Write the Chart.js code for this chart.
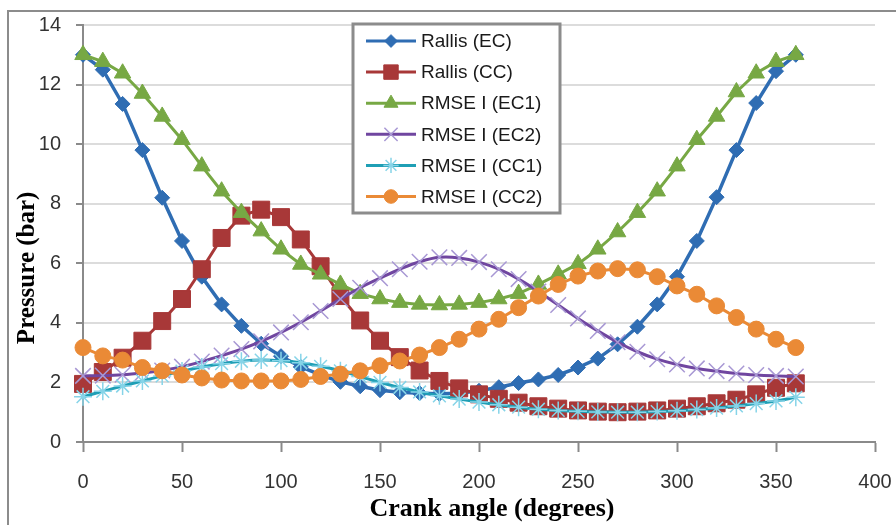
<!DOCTYPE html>
<html>
<head>
<meta charset="utf-8">
<script src="https://cdn.jsdelivr.net/npm/chart.js"></script>
<style>
  html, body { margin: 0; padding: 0; background: #fff; }
  #wrap { width: 896px; height: 525px; }
</style>
</head>
<body>
<div id="wrap"><canvas id="chart" width="896" height="525"></canvas></div>
<script>
// crank angle, degrees
const angles = [0, 10, 20, 30, 40, 50, 60, 70, 80, 90, 100, 110, 120, 130, 140, 150, 160, 170, 180,
  190, 200, 210, 220, 230, 240, 250, 260, 270, 280, 290, 300, 310, 320, 330, 340, 350, 360];

// pressure (bar)
const rallisEC = [13.0, 12.5, 11.35, 9.8, 8.2, 6.75, 5.55, 4.62, 3.9, 3.3, 2.88, 2.52, 2.25, 2.02, 1.87, 1.74, 1.67, 1.64, 1.62,
  1.64, 1.72, 1.84, 1.98, 2.1, 2.25, 2.5, 2.8, 3.28, 3.87, 4.62, 5.55, 6.75, 8.22, 9.8, 11.38, 12.45, 13.0];
const rallisCC = [1.95, 2.35, 2.83, 3.4, 4.06, 4.8, 5.8, 6.85, 7.6, 7.8, 7.55, 6.8, 5.9, 4.9, 4.08, 3.4, 2.85, 2.4, 2.05,
  1.8, 1.6, 1.45, 1.32, 1.2, 1.12, 1.06, 1.02, 1.0, 1.02, 1.06, 1.12, 1.2, 1.3, 1.42, 1.6, 1.82, 1.97];
const rmseEC1 = [13.0, 12.77, 12.38, 11.7, 10.93, 10.15, 9.26, 8.42, 7.7, 7.08, 6.47, 5.96, 5.63, 5.29, 4.98, 4.8, 4.68, 4.62, 4.6,
  4.62, 4.68, 4.8, 4.98, 5.29, 5.63, 5.98, 6.47, 7.05, 7.7, 8.42, 9.26, 10.15, 10.93, 11.75, 12.38, 12.77, 13.0];
const rmseEC2 = [2.22, 2.23, 2.26, 2.32, 2.4, 2.53, 2.7, 2.9, 3.12, 3.38, 3.68, 4.02, 4.4, 4.8, 5.18, 5.5, 5.8, 6.05, 6.2,
  6.18, 6.04, 5.8, 5.47, 5.05, 4.6, 4.15, 3.73, 3.35, 3.03, 2.78, 2.6, 2.47, 2.38, 2.3, 2.25, 2.22, 2.2];
const rmseCC1 = [1.52, 1.7, 1.88, 2.05, 2.22, 2.38, 2.52, 2.63, 2.71, 2.75, 2.73, 2.66, 2.54, 2.39, 2.2, 2.0, 1.83, 1.68, 1.55,
  1.44, 1.34, 1.25, 1.17, 1.1, 1.06, 1.03, 1.01, 1.0, 1.0, 1.02, 1.05, 1.09, 1.14, 1.21, 1.29, 1.38, 1.5];
const rmseCC2 = [3.17, 2.89, 2.75, 2.5, 2.39, 2.25, 2.15, 2.08, 2.05, 2.05, 2.05, 2.1, 2.2, 2.28, 2.39, 2.56, 2.72, 2.92, 3.17,
  3.45, 3.79, 4.12, 4.51, 4.9, 5.29, 5.57, 5.74, 5.82, 5.78, 5.55, 5.24, 4.96, 4.57, 4.18, 3.79, 3.45, 3.17];

const seriesNames = ['Rallis (EC)', 'Rallis (CC)', 'RMSE I (EC1)', 'RMSE I (EC2)', 'RMSE I (CC1)', 'RMSE I (CC2)'];

function pts(vals) {
  return angles.map((a, i) => ({ x: a, y: vals[i] }));
}

Chart.defaults.font.family = '"Liberation Sans", Arial, sans-serif';

// white page + grey chart frame (Excel style)
const framePlugin = {
  id: 'frame',
  beforeDraw(chart) {
    const c = chart.ctx;
    c.save();
    c.fillStyle = '#fff';
    c.fillRect(0, 0, chart.width, chart.height);
    c.strokeStyle = '#8c8c8c';
    c.lineWidth = 2;
    c.beginPath();
    c.moveTo(8, chart.height);
    c.lineTo(8, 11);
    c.lineTo(chart.width, 11);
    c.stroke();
    c.restore();
  }
};

// boxed legend sitting inside the plot
const boxLegend = {
  id: 'boxLegend',
  afterDraw(chart) {
    const c = chart.ctx;
    c.save();
    c.fillStyle = '#fff';
    c.fillRect(353, 24, 207, 189);
    c.strokeStyle = '#8c8c8c';
    c.lineWidth = 3;
    c.strokeRect(353, 24, 207, 189);
    chart.data.datasets.forEach((ds, i) => {
      const y = 41 + i * 31.1;
      c.strokeStyle = ds.borderColor;
      c.lineWidth = 3;
      c.beginPath();
      c.moveTo(366, y);
      c.lineTo(416, y);
      c.stroke();
      c.fillStyle = ds.pointBackgroundColor;
      c.strokeStyle = ds.pointBorderColor;
      c.lineWidth = ds.pointBorderWidth;
      Chart.helpers.drawPoint(c, {
        pointStyle: ds.pointStyle, radius: ds.pointRadius * 0.85, rotation: 0, borderWidth: ds.pointBorderWidth
      }, 391, y);
      c.fillStyle = '#1a1a1a';
      c.font = '19px "Liberation Sans", Arial, sans-serif';
      c.textBaseline = 'middle';
      c.textAlign = 'left';
      c.fillText(ds.label, 421, y + 1);
    });
    c.restore();
  }
};

const datasets = [
  { label: seriesNames[0], data: pts(rallisEC), borderColor: '#2f6db3', borderWidth: 3.5,
    pointStyle: 'rectRot', pointRadius: 7.5, pointBackgroundColor: '#2f6db3', pointBorderColor: '#2f6db3', pointBorderWidth: 1, order: 5 },
  { label: seriesNames[1], data: pts(rallisCC), borderColor: '#a83838', borderWidth: 3,
    pointStyle: 'rect', pointRadius: 12, pointBackgroundColor: '#a83838', pointBorderColor: '#a83838', pointBorderWidth: 1, order: 4 },
  { label: seriesNames[2], data: pts(rmseEC1), borderColor: '#77a844', borderWidth: 3,
    pointStyle: 'triangle', pointRadius: 9.5, pointBackgroundColor: '#77a844', pointBorderColor: '#77a844', pointBorderWidth: 1, order: 3 },
  { label: seriesNames[3], data: pts(rmseEC2), borderColor: '#7046a0', borderWidth: 3, tension: 0.4,
    pointStyle: 'crossRot', pointRadius: 11, pointBackgroundColor: '#a898d4', pointBorderColor: '#a898d4', pointBorderWidth: 1.5, order: 2 },
  { label: seriesNames[4], data: pts(rmseCC1), borderColor: '#1f9fb5', borderWidth: 3, tension: 0.4,
    pointStyle: 'star', pointRadius: 9, pointBackgroundColor: '#86d4e8', pointBorderColor: '#86d4e8', pointBorderWidth: 1.5, order: 1 },
  { label: seriesNames[5], data: pts(rmseCC2), borderColor: '#ea8a36', borderWidth: 3,
    pointStyle: 'circle', pointRadius: 8, pointBackgroundColor: '#ea8a36', pointBorderColor: '#ea8a36', pointBorderWidth: 1, order: 0 }
];
datasets.forEach(d => { d.clip = false; d.fill = false; d.pointHoverRadius = d.pointRadius; });

new Chart(document.getElementById('chart'), {
  type: 'line',
  data: { datasets: datasets },
  options: {
    responsive: false,
    animation: false,
    layout: { padding: { left: 10, right: 21, top: 25, bottom: 0 } },
    plugins: { legend: { display: false }, tooltip: { enabled: false } },
    scales: {
      x: {
        type: 'linear', min: 0, max: 400,
        ticks: { stepSize: 50, color: '#333', font: { size: 20 }, padding: 18, maxRotation: 0 },
        grid: { drawOnChartArea: false, drawTicks: true, tickLength: 10, tickColor: '#8a8a8a', tickWidth: 2 },
        border: { color: '#8a8a8a', width: 2 },
        title: { display: true, text: '    Crank angle (degrees)', color: '#000',
          font: { family: '"Liberation Serif", "Times New Roman", serif', size: 26, weight: 'bold' }, padding: { top: 0, bottom: 0 } },
        afterFit(s) { s.height = 83; s.paddingLeft = 0; s.paddingRight = 0; }
      },
      y: {
        min: 0, max: 14,
        ticks: { stepSize: 2, color: '#333', font: { size: 20 }, padding: 15 },
        grid: { color: '#dcdcdc', lineWidth: 2, tickLength: 7, tickColor: '#8a8a8a', tickWidth: 2 },
        border: { color: '#8a8a8a', width: 2 },
        title: { display: true, text: 'Pressure (bar)           ', color: '#000',
          font: { family: '"Liberation Serif", "Times New Roman", serif', size: 25, weight: 'bold' }, padding: { top: 3, bottom: 0 } },
        afterFit(s) { s.width = 73; s.paddingTop = 0; s.paddingBottom = 0; }
      }
    }
  },
  plugins: [framePlugin, boxLegend]
});
</script>
</body>
</html>
